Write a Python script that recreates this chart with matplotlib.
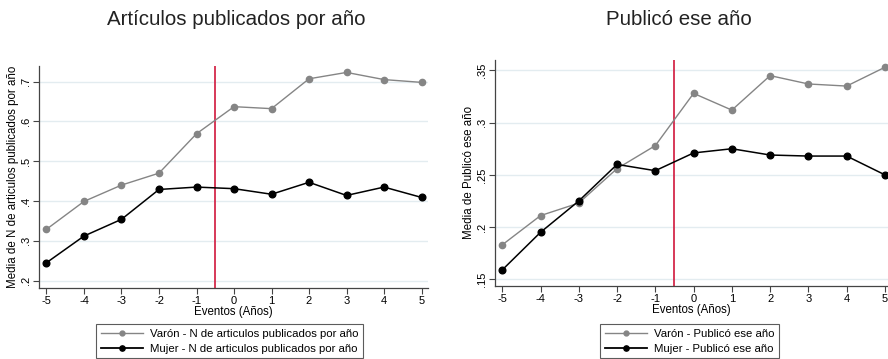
import matplotlib
matplotlib.use("Agg")
import matplotlib.pyplot as plt
from matplotlib.lines import Line2D
from matplotlib.ticker import FuncFormatter

plt.rcParams['font.family'] = ['Liberation Sans', 'DejaVu Sans']
plt.rcParams['axes.unicode_minus'] = False

eventos = [-5, -4, -3, -2, -1, 0, 1, 2, 3, 4, 5]

# N de articulos publicados por año
art_varon = [0.329, 0.399, 0.440, 0.470, 0.569, 0.637, 0.632, 0.707, 0.723, 0.705, 0.698]
art_mujer = [0.245, 0.312, 0.354, 0.429, 0.435, 0.431, 0.417, 0.447, 0.414, 0.435, 0.409]

# Publicó ese año
pub_varon = [0.183, 0.211, 0.223, 0.256, 0.278, 0.328, 0.312, 0.345, 0.337, 0.335, 0.353]
pub_mujer = [0.159, 0.195, 0.225, 0.260, 0.254, 0.271, 0.275, 0.269, 0.268, 0.268, 0.250]

art_yticks = [0.2, 0.3, 0.4, 0.5, 0.6, 0.7]
pub_yticks = [0.15, 0.2, 0.25, 0.3, 0.35]

GRAY = "#858585"
RED = "#d42a4b"
GRID = "#e3ecf0"


def stata_fmt(v, _):
    s = f"{v:.2f}".rstrip("0")
    return s[1:] if s.startswith("0") else s


def panel(ax, yv, ym, yticks, ylim, xlim, title, ylabel, lab_v, lab_m, title_x, leg_box):
    ax.plot(eventos, yv, color=GRAY, lw=1.0, marker="o", ms=4.5, mec=GRAY, mfc=GRAY, zorder=3)
    ax.plot(eventos, ym, color="black", lw=1.1, marker="o", ms=4.8, zorder=3)
    ax.axvline(-0.5, color=RED, lw=1.3, zorder=2)
    ax.set_xlim(*xlim)
    ax.set_ylim(*ylim)
    ax.set_xticks(eventos)
    ax.set_yticks(yticks)
    ax.yaxis.set_major_formatter(FuncFormatter(stata_fmt))
    ax.grid(axis="y", color=GRID, lw=1.0)
    ax.set_axisbelow(True)
    for s in ("top", "right"):
        ax.spines[s].set_visible(False)
    for s in ("left", "bottom"):
        ax.spines[s].set_color("#444444")
        ax.spines[s].set_linewidth(0.9)
    ax.tick_params(axis="both", labelsize=8, length=4, width=0.8, color="#444444", pad=1.5)
    for lbl in ax.get_yticklabels():
        lbl.set_rotation(90)
        lbl.set_va("center")
    ax.set_xlabel("Eventos (Años)", fontsize=8.3, labelpad=0.5)
    ax.set_ylabel(ylabel, fontsize=8.3, labelpad=2)
    ax.figure.text(title_x, 0.946, title, fontsize=14.8, color="#222222", ha="center", va="center")

    # legend keys use smaller markers than the plotted points
    handles = [Line2D([], [], color=GRAY, lw=1.0, marker="o", ms=3.5, mec=GRAY, mfc=GRAY),
               Line2D([], [], color="black", lw=1.3, marker="o", ms=3.8)]
    leg = ax.legend(handles, [lab_v, lab_m], loc="upper left", bbox_to_anchor=leg_box,
                    bbox_transform=ax.figure.transFigure, fontsize=8.2, frameon=True,
                    fancybox=False, handlelength=3.7, borderpad=0.4, labelspacing=0.45,
                    handletextpad=0.6, borderaxespad=0)
    leg.get_frame().set_edgecolor("#333333")
    leg.get_frame().set_linewidth(0.8)


fig = plt.figure(figsize=(8.88, 3.59), dpi=100)
ax1 = fig.add_axes([0.0439, 0.198, 0.438, 0.618])
ax2 = fig.add_axes([0.5574, 0.2033, 0.4426, 0.6297])

panel(ax1, art_varon, art_mujer, art_yticks, (0.1817, 0.739), (-5.2, 5.17),
      "Artículos publicados por año", "Media de N de articulos publicados por año",
      "Varón - N de articulos publicados por año", "Mujer - N de articulos publicados por año",
      236 / 888, (96 / 888, 1 - 324 / 359))
panel(ax2, pub_varon, pub_mujer, pub_yticks, (0.1436, 0.360), (-5.19, 5.08),
      "Publicó ese año", "Media de Publicó ese año",
      "Varón - Publicó ese año", "Mujer - Publicó ese año",
      678.5 / 888, (600 / 888, 1 - 324 / 359))

fig.savefig("out.png", dpi=100)
